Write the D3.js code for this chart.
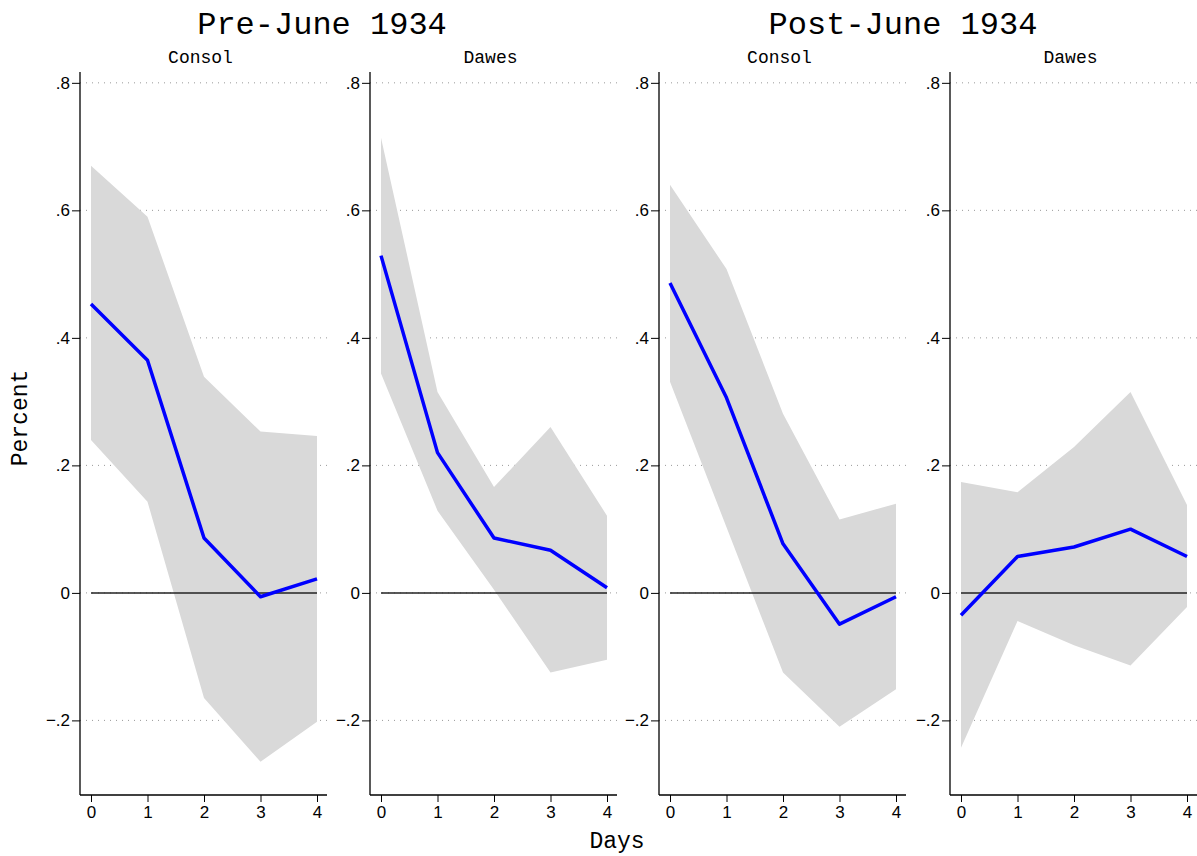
<!DOCTYPE html>
<html>
<head>
<meta charset="utf-8">
<script src="https://cdn.jsdelivr.net/npm/d3@7"></script>
<style>
  body { margin: 0; background: white; }
</style>
</head>
<body>
<div id="container"></div>
<script>
let w = 1197;
let h = 856;

// data
let days = [0, 1, 2, 3, 4];
let groups = ["Pre-June 1934", "Post-June 1934"];
let bonds = ["Consol", "Dawes"];
let yTicks = [-0.2, 0, 0.2, 0.4, 0.6, 0.8];

let preConsolEst = [0.453, 0.365, 0.086, -0.006, 0.022];
let preConsolHi = [0.670, 0.590, 0.339, 0.253, 0.246];
let preConsolLo = [0.240, 0.143, -0.165, -0.265, -0.202];

let preDawesEst = [0.529, 0.220, 0.086, 0.067, 0.008];
let preDawesHi = [0.714, 0.315, 0.166, 0.260, 0.121];
let preDawesLo = [0.344, 0.129, 0.005, -0.125, -0.105];

let postConsolEst = [0.486, 0.306, 0.077, -0.049, -0.006];
let postConsolHi = [0.640, 0.508, 0.281, 0.115, 0.140];
let postConsolLo = [0.331, 0.103, -0.125, -0.210, -0.151];

let postDawesEst = [-0.035, 0.057, 0.072, 0.100, 0.057];
let postDawesHi = [0.174, 0.158, 0.229, 0.315, 0.138];
let postDawesLo = [-0.243, -0.044, -0.082, -0.114, -0.022];

let panels = [
  { title: bonds[0], est: preConsolEst, hi: preConsolHi, lo: preConsolLo, left: 80 },
  { title: bonds[1], est: preDawesEst, hi: preDawesHi, lo: preDawesLo, left: 370 },
  { title: bonds[0], est: postConsolEst, hi: postConsolHi, lo: postConsolLo, left: 659 },
  { title: bonds[1], est: postDawesEst, hi: postDawesHi, lo: postDawesLo, left: 950 }
];

let mono = "'Liberation Mono', 'Courier New', monospace";
let sans = "'Liberation Sans', Arial, sans-serif";

let viz = d3.select("#container")
  .append("svg")
  .attr("width", w)
  .attr("height", h)
  .style("background-color", "white");

let yScale = d3.scaleLinear().domain([-0.317, 0.817]).range([795, 72]);
let panelW = 247;

function fmt(d) {
  if (d == 0) return "0";
  return d3.format(".1f")(d).replace("0.", ".");
}

panels.forEach(function(p, i) {
  let xScale = d3.scaleLinear().domain([0, 4]).range([p.left + 11, p.left + 237]);
  let g = viz.append("g").attr("class", "panel");

  // dotted grid
  g.selectAll(".grid").data(yTicks).enter()
    .append("line")
    .attr("x1", p.left)
    .attr("x2", p.left + panelW)
    .attr("y1", d => yScale(d))
    .attr("y2", d => yScale(d))
    .attr("stroke", "#999")
    .attr("stroke-width", 1)
    .attr("stroke-dasharray", "1,5");

  // confidence band
  let area = d3.area()
    .x((d, j) => xScale(days[j]))
    .y0((d, j) => yScale(p.lo[j]))
    .y1((d, j) => yScale(p.hi[j]));
  g.append("path")
    .datum(days)
    .attr("d", area)
    .attr("fill", "#d9d9d9");

  // zero line
  g.append("line")
    .attr("x1", xScale(0))
    .attr("x2", xScale(4))
    .attr("y1", yScale(0))
    .attr("y2", yScale(0))
    .attr("stroke", "#222")
    .attr("stroke-width", 1.5);

  // estimate
  let line = d3.line()
    .x((d, j) => xScale(days[j]))
    .y(d => yScale(d));
  g.append("path")
    .datum(p.est)
    .attr("d", line)
    .attr("fill", "none")
    .attr("stroke", "#0000ff")
    .attr("stroke-width", 3.5)
    .attr("stroke-linejoin", "round");

  // axes
  let yAxis = d3.axisLeft(yScale).tickValues(yTicks).tickFormat(fmt).tickSize(8).tickPadding(2);
  let ya = g.append("g")
    .attr("transform", "translate(" + p.left + ",0)")
    .call(yAxis);
  ya.select(".domain").attr("d", "M0," + yScale.range()[1] + "V" + yScale.range()[0]);

  let xAxis = d3.axisBottom(xScale).tickValues(days).tickFormat(d3.format("d")).tickSize(7).tickPadding(4);
  let xa = g.append("g")
    .attr("transform", "translate(0,795)")
    .call(xAxis);
  xa.select(".domain").attr("d", "M" + p.left + ",0H" + (p.left + panelW));

  [ya, xa].forEach(function(a) {
    a.attr("font-size", 17).attr("font-family", sans);
    a.selectAll("text").attr("fill", "#000");
    a.selectAll("line").attr("stroke", "#000");
    a.select(".domain").attr("stroke", "#000").attr("stroke-width", 1.3);
  });

  g.append("text")
    .text(p.title)
    .attr("x", p.left + panelW / 2 - 3)
    .attr("y", 63)
    .attr("text-anchor", "middle")
    .style("font-family", mono)
    .style("font-size", "18px");
});

groups.forEach(function(t, i) {
  viz.append("text")
    .text(t)
    .attr("x", i == 0 ? 322 : 903)
    .attr("y", 34)
    .attr("text-anchor", "middle")
    .style("font-family", mono)
    .style("font-size", "32px");
});

viz.append("text")
  .text("Days")
  .attr("x", 617)
  .attr("y", 848)
  .attr("text-anchor", "middle")
  .style("font-family", mono)
  .style("font-size", "23px");

viz.append("text")
  .text("Percent")
  .attr("transform", "translate(27,418) rotate(-90)")
  .attr("text-anchor", "middle")
  .style("font-family", mono)
  .style("font-size", "23px");
</script>
</body>
</html>
